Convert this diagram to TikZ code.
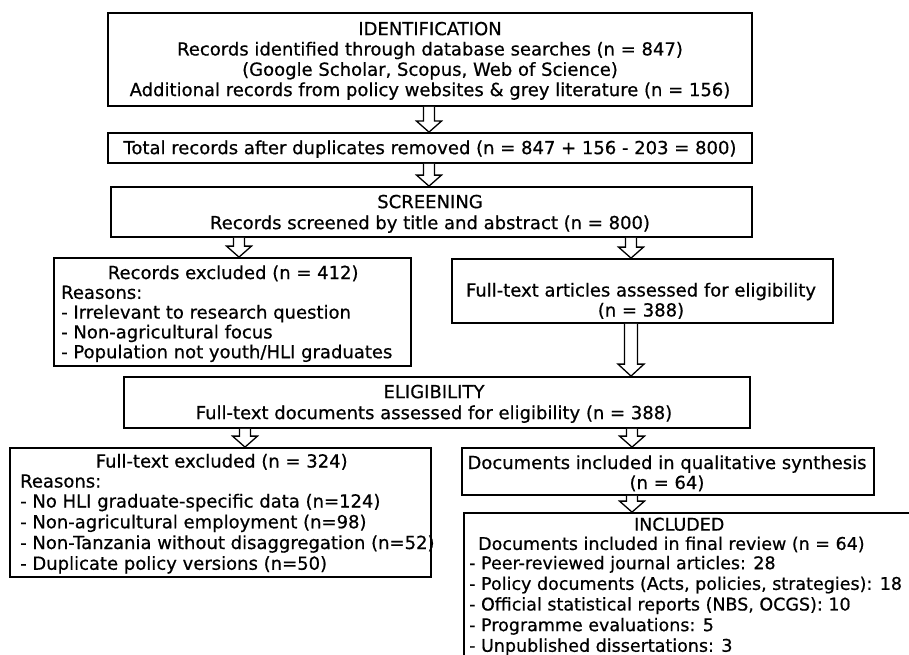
\documentclass[tikz,border=0pt]{standalone}
\usepackage{fontspec}
\setmainfont{DejaVu Sans}[FakeBold=0.6]
\usetikzlibrary{calc}
\newcommand\ls{\rule[-3pt]{0pt}{19pt}}
\tikzset{
  x=1pt, y=-1pt,
  box/.style={draw=black, line width=1.8pt, fill=white, rectangle, inner sep=0pt},
  txt/.style={inner sep=0pt, font=\fontsize{18}{#1}\selectfont},
  txt/.default=20,
  txtsm/.style={inner sep=0pt, font=\fontsize{17.5}{#1}\selectfont},
  fatarr/.style={draw=black, fill=white, line width=1.3pt, line join=miter},
}
% #1 shaft half width, #2 head half width, #3 head length, #4 start, #5 end
\newcommand\fatarrow[5]{%
  \draw[fatarr] let \p1=(#4), \p2=(#5) in
    (\x1-#1,\y1) -- (\x1-#1,\y2+#3) -- (\x1-#2,\y2+#3) -- (\x1,\y2)
    -- (\x1+#2,\y2+#3) -- (\x1+#1,\y2+#3) -- (\x1+#1,\y1);}
\begin{document}
\begin{tikzpicture}
\useasboundingbox (0,0) rectangle (909,655);
\clip (0,0) rectangle (909,655);
\fill[white] (0,0) rectangle (909,655);

% boxes
\node[box, minimum width=644pt, minimum height=93pt] (b1) at (430,59.5) {};
\node[box, minimum width=644pt, minimum height=30pt] (b2) at (430,148) {};
\node[box, minimum width=641pt, minimum height=50pt] (b3) at (431.5,212) {};
\node[box, minimum width=357pt, minimum height=108pt] (b4) at (232.5,312) {};
\node[box, minimum width=381pt, minimum height=64pt] (b5) at (642.5,291) {};
\node[box, minimum width=626pt, minimum height=51pt] (b6) at (437,402.5) {};
\node[box, minimum width=421pt, minimum height=129pt] (b7) at (220.5,512.5) {};
\node[box, minimum width=412pt, minimum height=47pt] (b8) at (668,471.5) {};
\node[box, minimum width=476pt, minimum height=187pt] (b9) at (702,606.5) {};

% arrow axes
\coordinate (x1) at (429,0);
\coordinate (x3) at (239,0);
\coordinate (x4) at (631,0);
\coordinate (x6) at (245,0);
\coordinate (x7) at (632,0);

\fatarrow{5.5pt}{12.5pt}{11pt}{b1.south -| x1}{b2.north -| x1}
\fatarrow{5.5pt}{12.5pt}{11pt}{b2.south -| x1}{b3.north -| x1}
\fatarrow{5.5pt}{12.5pt}{11pt}{b3.south -| x3}{b4.north -| x3}
\fatarrow{5.5pt}{12.5pt}{11pt}{b3.south -| x4}{b5.north -| x4}
\fatarrow{6.5pt}{13pt}{12pt}{b5.south -| x4}{b6.north -| x4}
\fatarrow{5.5pt}{12.5pt}{11pt}{b6.south -| x6}{b7.north -| x6}
\fatarrow{5.5pt}{12.5pt}{11pt}{b6.south -| x7}{b8.north -| x7}
\fatarrow{5.5pt}{12.5pt}{11pt}{b8.south -| x7}{b9.north -| x7}

% texts
\node[txt=20.3, align=center] (t1) at (430,59.5) {\ls IDENTIFICATION\\
\ls Records identified through database searches (n = 847)\\
\ls (Google Scholar, Scopus, Web of Science)\\
\ls Additional records from policy websites \& grey literature (n = 156)};
\node[txt, align=center] (t2) at (430,148) {\ls Total records after duplicates removed (n = 847 + 156 - 203 = 800)};
\node[txt=21, align=center] (t3) at (430,212.5) {\ls SCREENING\\ \ls Records screened by title and abstract (n = 800)};
\node[txt=19.8, align=left, anchor=west] (t4) at (61,312.5) {\ls\makebox[344pt][c]{Records excluded (n = 412)}\\
\ls Reasons:\\
\ls - Irrelevant to research question\\
\ls - Non-agricultural focus\\
\ls - Population not youth/HLI graduates};
\node[txt, align=center] (t5) at (641,300) {\ls Full-text articles assessed for eligibility\\ \ls (n = 388)};
\node[txt=21, align=center] (t6) at (434,402.5) {\ls ELIGIBILITY\\ \ls Full-text documents assessed for eligibility (n = 388)};
\node[txt=18.6, align=left, anchor=west] (t7) at (20,512.5) {\ls\makebox[403pt][c]{Full-text excluded (n = 324)}\\
\ls Reasons:\\
\ls - No HLI graduate-specific data (n=124)\\
\ls - Non-agricultural employment (n=98)\\
\ls - Non-Tanzania without disaggregation (n=52)\\
\ls - Duplicate policy versions (n=50)};
\node[txt, align=center] (t8) at (667,472.5) {\ls Documents included in qualitative synthesis\\ \ls (n = 64)};
\node[txtsm=19.3, align=left, anchor=west] (t9) at (469,585) {\ls\makebox[420pt][c]{INCLUDED}\\
\ls\hspace*{9pt}Documents included in final review (n = 64)\\
\ls - Peer-reviewed journal articles: 28\\
\ls - Policy documents (Acts, policies, strategies): 18\\
\ls - Official statistical reports (NBS, OCGS): 10\\
\ls - Programme evaluations: 5\\
\ls - Unpublished dissertations: 3};
\end{tikzpicture}
\end{document}
